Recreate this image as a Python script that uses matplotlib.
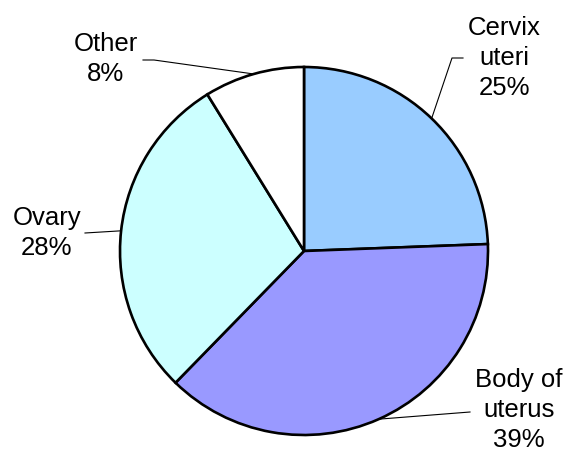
import numpy as np
import matplotlib
matplotlib.use("Agg")
import matplotlib.pyplot as plt

plt.rcParams['font.family'] = ['Liberation Sans', 'DejaVu Sans']

categories = ["Cervix\nuteri", "Body of\nuterus", "Ovary", "Other"]
values = [24.4, 37.9, 28.9, 8.8]
pct_labels = ["25%", "39%", "28%", "8%"]
colors = ["#99CCFF", "#9999FF", "#CCFFFF", "#FFFFFF"]

W, H = 565, 455
fig = plt.figure(figsize=(W / 100, H / 100), dpi=100)
ax = fig.add_axes([0, 0, 1, 1])

cx, cy, r = 304, H - 251, 184
wedges, _ = ax.pie(values, colors=colors, startangle=90, counterclock=False,
                   center=(cx, cy), radius=r, frame=True,
                   wedgeprops=dict(edgecolor='black', linewidth=1.9))
ax.set_xlim(0, W)
ax.set_ylim(0, H)
ax.set_aspect('equal')
ax.axis('off')

# label layout: (text center x, text center y (px from top), leader path points in px)
layout = [
    dict(tx=504, ty=58, path=[(452, 58), (463, 58)]),
    dict(tx=519, ty=410, path=[(470, 412)]),
    dict(tx=47, ty=233, path=[(85, 233)]),
    dict(tx=106, ty=59, path=[(154, 60), (143, 60)]),
]

for w, cat, pct, lay in zip(wedges, categories, pct_labels, layout):
    mid = np.deg2rad((w.theta1 + w.theta2) / 2)
    ex, ey = cx + r * np.cos(mid), cy + r * np.sin(mid)
    xs = [ex] + [p[0] for p in lay['path']]
    ys = [ey] + [H - p[1] for p in lay['path']]
    ax.plot(xs, ys, color='black', linewidth=0.8, zorder=0.5)
    ax.text(lay['tx'], H - lay['ty'], cat + "\n" + pct, ha='center', va='center',
            multialignment='center', fontsize=18.5, linespacing=1.34, color='black')

fig.savefig("out.png", dpi=100, facecolor='white')
